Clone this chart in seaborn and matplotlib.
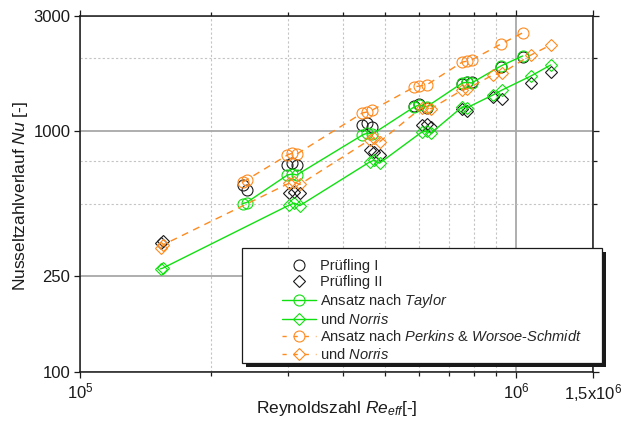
import matplotlib
matplotlib.use("Agg")
import matplotlib.pyplot as plt
import seaborn as sns
import pandas as pd
from matplotlib.lines import Line2D
from matplotlib.patches import Rectangle
from matplotlib.ticker import FixedLocator, FixedFormatter, NullFormatter

# Prüfling I: effective Reynolds number, measured Nu and model predictions
re_I = [2.36e5, 2.41e5, 2.99e5, 3.07e5, 3.14e5, 4.44e5, 4.56e5, 4.68e5,
        5.84e5, 6.00e5, 6.23e5, 7.52e5, 7.72e5, 7.90e5, 9.23e5, 1.034e6]
nu_I_meas = [597, 569, 722, 737, 722, 1059, 1080, 1040,
             1270, 1300, 1250, 1570, 1600, 1590, 1845, 2030]
nu_I_taylor = [500, 505, 657, 663, 657, 962, 981, 971,
               1259, 1283, 1259, 1581, 1595, 1581, 1862, 2047]
nu_I_perkins = [614, 627, 795, 810, 802, 1188, 1200, 1222,
                1523, 1537, 1552, 1931, 1950, 1970, 2296, 2553]

# Prüfling II: effective Reynolds number, measured Nu and model predictions
re_II = [1.53e5, 1.55e5, 3.02e5, 3.10e5, 3.19e5, 4.61e5, 4.73e5, 4.86e5,
         6.07e5, 6.23e5, 6.38e5, 7.52e5, 7.72e5, 8.83e5, 9.28e5, 1.08e6, 1.20e6]
nu_II_meas = [343, 350, 553, 558, 553, 833, 818, 795,
              1059, 1069, 1040, 1230, 1210, 1390, 1360, 1581, 1758]
nu_II_taylor_norris = [268, 270, 493, 502, 490, 743, 757, 735,
                       989, 999, 980, 1259, 1250, 1409, 1479, 1690, 1879]
nu_II_perkins_norris = [327, 337, 608, 614, 600, 918, 935, 901,
                        1250, 1250, 1238, 1479, 1495, 1706, 1740, 2065, 2275]

x_ticks = [1e5, 1e6, 1.5e6]
x_tick_labels = ["$10^5$", "$10^6$", "1,5x10$^6$"]
x_minor = [2e5, 3e5, 4e5, 5e5, 6e5, 7e5, 8e5, 9e5]
y_ticks = [100, 250, 1000, 3000]
y_tick_labels = ["100", "250", "1000", "3000"]
y_minor = [500, 750, 2000]

legend_labels = [
    "Prüfling I",
    "Prüfling II",
    r"Ansatz nach $\mathit{Taylor}$",
    r"und $\mathit{Norris}$",
    r"Ansatz nach $\mathit{Perkins}$ & $\mathit{Worsoe}$-$\mathit{Schmidt}$",
    r"und $\mathit{Norris}$",
]

GREEN = "#10e010"
ORANGE = "#ff8a1e"

sns.set_theme(style="ticks")
plt.rcParams["font.family"] = ["Liberation Sans", "DejaVu Sans"]
plt.rcParams["mathtext.fontset"] = "custom"
plt.rcParams["mathtext.rm"] = "Liberation Sans"
plt.rcParams["mathtext.it"] = "Liberation Sans:italic"
plt.rcParams["mathtext.bf"] = "Liberation Sans:bold"

fig = plt.figure(figsize=(6.22, 4.23), dpi=100)
W, H = 622, 423
ax = fig.add_axes([80 / W, 1 - 372 / H, (593 - 80) / W, (372 - 16) / H])

df_I = pd.DataFrame({"Re": re_I, "meas": nu_I_meas,
                     "taylor": nu_I_taylor, "perkins": nu_I_perkins})
df_II = pd.DataFrame({"Re": re_II, "meas": nu_II_meas,
                      "taylor": nu_II_taylor_norris, "perkins": nu_II_perkins_norris})

ms_o, ms_d, mew, lw = 7.9, 6.6, 0.8, 1.0
dash = (0, (5, 4))

common = dict(ax=ax, estimator=None, sort=True, legend=False)

# model curves
sns.lineplot(data=df_I, x="Re", y="taylor", color=GREEN, lw=lw, marker="o",
             ms=ms_o, mfc="none", mec=GREEN, mew=mew, zorder=3, **common)
sns.lineplot(data=df_II, x="Re", y="taylor", color=GREEN, lw=lw, marker="D",
             ms=ms_d, mfc="none", mec=GREEN, mew=mew, zorder=3, **common)
sns.lineplot(data=df_I, x="Re", y="perkins", color=ORANGE, lw=lw, ls=dash,
             marker="o", ms=ms_o, mfc="none", mec=ORANGE, mew=mew, zorder=3, **common)
sns.lineplot(data=df_II, x="Re", y="perkins", color=ORANGE, lw=lw, ls=dash,
             marker="D", ms=ms_d, mfc="none", mec=ORANGE, mew=mew, zorder=3, **common)

# measurements
sns.lineplot(data=df_I, x="Re", y="meas", color="k", ls="none", marker="o",
             ms=ms_o, mfc="none", mec="k", mew=mew, zorder=2, **common)
sns.lineplot(data=df_II, x="Re", y="meas", color="k", ls="none", marker="D",
             ms=ms_d, mfc="none", mec="k", mew=mew, zorder=2, **common)

ax.set_xscale("log")
ax.set_yscale("log")
ax.set_xlim(1e5, 1.5e6)
ax.set_ylim(100, 3000)

ax.xaxis.set_major_locator(FixedLocator(x_ticks))
ax.xaxis.set_major_formatter(FixedFormatter(x_tick_labels))
ax.xaxis.set_minor_locator(FixedLocator(x_minor))
ax.xaxis.set_minor_formatter(NullFormatter())
ax.yaxis.set_major_locator(FixedLocator(y_ticks))
ax.yaxis.set_major_formatter(FixedFormatter(y_tick_labels))
ax.yaxis.set_minor_locator(FixedLocator(y_minor))
ax.yaxis.set_minor_formatter(NullFormatter())

ax.grid(which="major", color="#a8a8a8", lw=1.3, ls="-", zorder=0)
ax.grid(which="minor", color="#c4c4c4", lw=0.8, ls=(0, (2, 2)), zorder=0)
ax.set_axisbelow(True)

for s in ax.spines.values():
    s.set_color("k")
    s.set_linewidth(1.1)

ax.tick_params(which="both", direction="out", colors="k", labelsize=12,
               top=True, right=True, width=0.9, pad=3)
ax.tick_params(which="major", length=4)
ax.tick_params(which="minor", length=3)
ax.tick_params(axis="y", which="minor", left=False)

ax.set_xlabel(r"Reynoldszahl $\mathit{Re}_{\mathit{eff}}$[-]", fontsize=12.5, color="k")
ax.xaxis.set_label_coords(0.5, -0.075)
ax.set_ylabel(r"Nusseltzahlverlauf $\mathit{Nu}$ [-]", fontsize=12.5, color="k")
ax.yaxis.set_label_coords(-0.098, 0.495)

# legend box with drop shadow
off = 4
fig.add_artist(Rectangle(((242 + off) / W, 1 - (363 + off) / H), 360 / W, 115 / H,
                         transform=fig.transFigure, facecolor="k", edgecolor="k",
                         lw=0, zorder=3))
fig.add_artist(Rectangle((242 / W, 1 - 363 / H), 360 / W, 115 / H,
                         transform=fig.transFigure, facecolor="white", edgecolor="k",
                         lw=0.9, zorder=3.5))

handles = [
    Line2D([], [], ls="none", marker="o", ms=ms_o, mfc="none", mec="k", mew=mew),
    Line2D([], [], ls="none", marker="D", ms=ms_d, mfc="none", mec="k", mew=mew),
    Line2D([], [], color=GREEN, lw=lw, marker="o", ms=ms_o, mfc="none", mec=GREEN, mew=mew),
    Line2D([], [], color=GREEN, lw=lw, marker="D", ms=ms_d, mfc="none", mec=GREEN, mew=mew),
    Line2D([], [], color=ORANGE, lw=lw, ls=(0, (3, 5)), marker="o", ms=ms_o, mfc="none", mec=ORANGE, mew=mew),
    Line2D([], [], color=ORANGE, lw=lw, ls=(0, (3, 5)), marker="D", ms=ms_d, mfc="none", mec=ORANGE, mew=mew),
]
leg = fig.legend(handles, legend_labels, loc="upper left",
                 bbox_to_anchor=(282 / W, 1 - 259 / H), frameon=False,
                 fontsize=10.5, handlelength=2.3, handletextpad=0.3,
                 labelspacing=0.16, borderpad=0, borderaxespad=0)
leg.set_zorder(5)

fig.savefig("out.png", dpi=100)
